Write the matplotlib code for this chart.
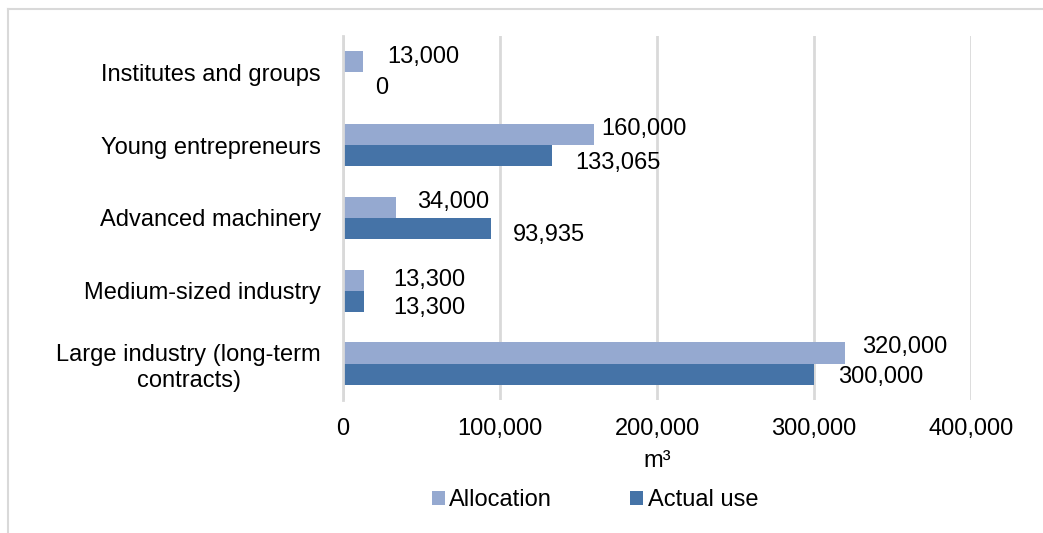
import matplotlib.pyplot as plt
from matplotlib.lines import Line2D
import numpy as np

plt.rcParams['font.family'] = ['Liberation Sans', 'DejaVu Sans']

# categories listed bottom to top
categories = ['Large industry (long-term\ncontracts)', 'Medium-sized industry',
              'Advanced machinery', 'Young entrepreneurs', 'Institutes and groups']
allocation = [320000, 13300, 34000, 160000, 13000]
actual_use = [300000, 13300, 93935, 133065, 0]

# hand-placed label nudges (pixels): (dx, dy)
alloc_offsets = [(17, 6), (29, 0), (21, 5), (7, 6), (24, 5)]
actual_offsets = [(24, -3), (29, -7), (22, -6), (23, -7), (32, -5)]

c_alloc = '#95a9d0'
c_actual = '#4573a7'
grid_c = '#d9d9d9'
fs = 17

fig = plt.figure(figsize=(10.43, 5.33), dpi=100)
ax = fig.add_axes([0.3289, 0.2495, 0.6021, 0.683])

y = np.arange(len(categories))
h = 0.29
ax.barh(y + h / 2, allocation, height=h, color=c_alloc, label='Allocation', zorder=3)
ax.barh(y - h / 2, actual_use, height=h, color=c_actual, label='Actual use', zorder=3)

for i in range(len(categories)):
    ax.annotate(f'{allocation[i]:,}', xy=(allocation[i], y[i] + h / 2),
                xytext=alloc_offsets[i], textcoords='offset pixels',
                ha='left', va='center', fontsize=fs, color='black')
    ax.annotate(f'{actual_use[i]:,}', xy=(actual_use[i], y[i] - h / 2),
                xytext=actual_offsets[i], textcoords='offset pixels',
                ha='left', va='center', fontsize=fs, color='black')

ax.set_xlim(0, 400000)
ax.set_ylim(-0.5, len(categories) - 0.5)
ax.set_xticks(np.arange(0, 400001, 100000))
ax.set_xticklabels([f'{int(t):,}' for t in ax.get_xticks()], fontsize=fs)
ax.set_yticks(y)
ax.set_yticklabels(categories, fontsize=fs)
for lbl in ax.get_yticklabels():
    lbl.set_multialignment('center')
ax.tick_params(axis='both', length=0)
ax.tick_params(axis='y', pad=16)
ax.tick_params(axis='x', pad=13)

ax.grid(axis='x', color=grid_c, linewidth=2, zorder=0)
for s in ['top', 'right', 'bottom']:
    ax.spines[s].set_visible(False)
ax.spines['left'].set_color(grid_c)
ax.spines['left'].set_linewidth(2)
ax.spines['left'].set_zorder(4)

ax.set_xlabel('m³', fontsize=fs, labelpad=7)

fig.legend(loc='center', bbox_to_anchor=(595 / 1043, 1 - 500 / 533), ncol=2,
           frameon=False, fontsize=fs, handlelength=0.55, handleheight=0.55,
           handletextpad=0.2, columnspacing=3.3)

# outer chart frame
fig.add_artist(Line2D([8 / 1043, 8 / 1043], [0, 1 - 9 / 533],
                      transform=fig.transFigure, color=grid_c, linewidth=1.5))
fig.add_artist(Line2D([8 / 1043, 1], [1 - 9 / 533, 1 - 9 / 533],
                      transform=fig.transFigure, color=grid_c, linewidth=1.5))

fig.savefig('out.png', dpi=100)
